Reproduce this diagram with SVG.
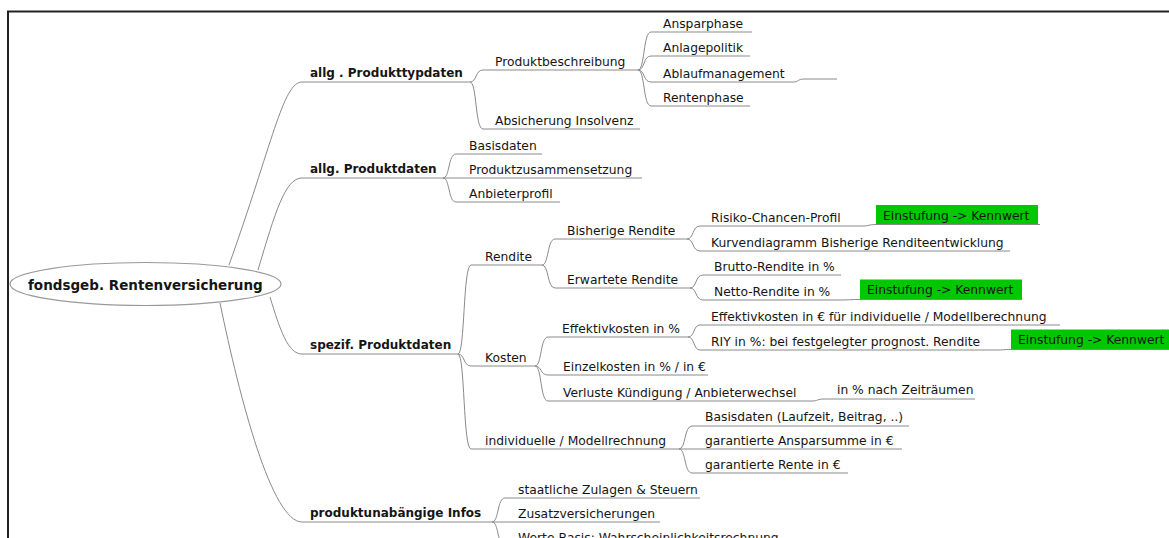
<svg xmlns="http://www.w3.org/2000/svg" width="1169" height="538" viewBox="0 0 1169 538">
<style>
text{font-family:"DejaVu Sans","Liberation Sans",sans-serif;fill:#151515}
.t{font-size:12.3px}
.b{font-size:12px;font-weight:bold}
.r{font-size:13.5px;font-weight:bold}
.u{stroke:#8a8a8a;stroke-width:1;fill:none}
.c{stroke:#8a8a8a;stroke-width:1;fill:none}
.g{fill:#00c800}
</style>
<rect x="0" y="0" width="1169" height="538" fill="#fff"/>
<path d="M8,538 L8,11.5 L1169,11.5" fill="none" stroke="#222" stroke-width="2"/>

<g id="connectors">
<path class="c" d="M229,265 C272,145 283,82 302,82"/>
<path class="c" d="M258,270 C275,213 285,178 302,178"/>
<path class="c" d="M270,297 C280,330 288,354 302,354"/>
<path class="c" d="M220,303 C240,400 272,522 302,522"/>
<path class="c" d="M470,82 C477,82 475,70 483,70"/>
<path class="c" d="M470,82 C477,82 475,129 483,129"/>
<path class="c" d="M638,70 C645,70 643,32 651,32"/>
<path class="c" d="M638,70 C645,70 643,56 651,56"/>
<path class="c" d="M638,70 C645,70 643,82 651,82"/>
<path class="c" d="M638,70 C645,70 643,106 651,106"/>
<path class="c" d="M793,82 C799,82 797,79 805,79"/>
<path class="c" d="M443,178 C450,178 448,154 456,154"/>
<path class="c" d="M443,178 L456,178"/>
<path class="c" d="M443,178 C450,178 448,202 456,202"/>
<path class="c" d="M458,354 C465,354 463,265 471,265"/>
<path class="c" d="M458,354 C465,354 463,366 471,366"/>
<path class="c" d="M458,354 C465,354 463,449 471,449"/>
<path class="c" d="M542,265 C549,265 547,239 555,239"/>
<path class="c" d="M542,265 C549,265 547,288 555,288"/>
<path class="c" d="M687,239 C694,239 692,226 700,226"/>
<path class="c" d="M687,239 C694,239 692,251 700,251"/>
<path class="c" d="M863,226 C869,226 869,224.5 876,224.5"/>
<path class="c" d="M690,288 C697,288 695,275 703,275"/>
<path class="c" d="M690,288 C697,288 695,300 703,300"/>
<path class="c" d="M840,300 C847,300 852,299.5 860,299.5"/>
<path class="c" d="M535,366 C542,366 540,337 548,337"/>
<path class="c" d="M535,366 C542,366 540,375 548,375"/>
<path class="c" d="M535,366 C542,366 540,401 548,401"/>
<path class="c" d="M688,337 C695,337 693,325 700,325"/>
<path class="c" d="M688,337 C695,337 693,350 700,350"/>
<path class="c" d="M997,350 C1003,350 1004,349.5 1011,349.5"/>
<path class="c" d="M812,401 C818,401 817,399 824,399"/>
<path class="c" d="M679,449 C686,449 684,426 692,426"/>
<path class="c" d="M679,449 L692,449"/>
<path class="c" d="M679,449 C686,449 684,473 692,473"/>
<path class="c" d="M492,522 C499,522 497,498 505,498"/>
<path class="c" d="M492,522 L505,522"/>
<path class="c" d="M492,522 C499,522 497,546 505,546"/>
</g>

<g id="root">
<ellipse cx="145.5" cy="284" rx="135.5" ry="21.5" fill="#fff" stroke="#9a9a9a" stroke-width="1.2"/>
<text class="r" x="28" y="290">fondsgeb. Rentenversicherung</text>
</g>

<g id="n_ptd"><line class="u" x1="302" y1="82" x2="470" y2="82"/><text class="b" x="310" y="77">allg . Produkttypdaten</text></g>
<g id="n_pd"><line class="u" x1="302" y1="178" x2="443" y2="178"/><text class="b" x="310" y="173">allg. Produktdaten</text></g>
<g id="n_spd"><line class="u" x1="302" y1="354" x2="458" y2="354"/><text class="b" x="310" y="349">spezif. Produktdaten</text></g>
<g id="n_pui"><line class="u" x1="302" y1="522" x2="492" y2="522"/><text class="b" x="310" y="517">produktunabängige Infos</text></g>

<g id="n_pb"><line class="u" x1="483" y1="70" x2="638" y2="70"/><text class="t" x="495" y="65.5">Produktbeschreibung</text></g>
<g id="n_ai"><line class="u" x1="483" y1="129" x2="640" y2="129"/><text class="t" x="495" y="124.5">Absicherung Insolvenz</text></g>
<g id="n_asp"><line class="u" x1="651" y1="32" x2="752" y2="32"/><text class="t" x="663" y="27.5">Ansparphase</text></g>
<g id="n_alp"><line class="u" x1="651" y1="56" x2="750" y2="56"/><text class="t" x="663" y="51.5">Anlagepolitik</text></g>
<g id="n_abm"><line class="u" x1="651" y1="82" x2="793" y2="82"/><text class="t" x="663" y="77.5">Ablaufmanagement</text></g>
<g id="n_abm_child"><line class="u" x1="805" y1="79" x2="837" y2="79"/></g>
<g id="n_rp"><line class="u" x1="651" y1="106" x2="750" y2="106"/><text class="t" x="663" y="101.5">Rentenphase</text></g>

<g id="n_bd"><line class="u" x1="456" y1="154" x2="542" y2="154"/><text class="t" x="469" y="149.5">Basisdaten</text></g>
<g id="n_pz"><line class="u" x1="456" y1="178" x2="642" y2="178"/><text class="t" x="469" y="173.5">Produktzusammensetzung</text></g>
<g id="n_abp"><line class="u" x1="456" y1="202" x2="560" y2="202"/><text class="t" x="469" y="197.5">Anbieterprofil</text></g>

<g id="n_ren"><line class="u" x1="471" y1="265" x2="542" y2="265"/><text class="t" x="485" y="260.5">Rendite</text></g>
<g id="n_br"><line class="u" x1="555" y1="239" x2="687" y2="239"/><text class="t" x="567" y="234.5">Bisherige Rendite</text></g>
<g id="n_rcp"><line class="u" x1="700" y1="226" x2="863" y2="226"/><text class="t" x="711" y="221.5">Risiko-Chancen-Profil</text></g>
<g id="n_k1"><rect class="g" x="876" y="205" width="162" height="19.5"/><line class="u" x1="876" y1="224.5" x2="1040" y2="224.5"/><text class="t" x="883" y="220">Einstufung -&gt; Kennwert</text></g>
<g id="n_kd"><line class="u" x1="700" y1="251" x2="1010" y2="251"/><text class="t" x="711" y="246.5">Kurvendiagramm Bisherige Renditeentwicklung</text></g>
<g id="n_er"><line class="u" x1="555" y1="288" x2="690" y2="288"/><text class="t" x="567" y="283.5">Erwartete Rendite</text></g>
<g id="n_bru"><line class="u" x1="703" y1="275" x2="841" y2="275"/><text class="t" x="714" y="270.5">Brutto-Rendite in %</text></g>
<g id="n_net"><line class="u" x1="703" y1="300" x2="840" y2="300"/><text class="t" x="714" y="295.5">Netto-Rendite in %</text></g>
<g id="n_k2"><rect class="g" x="860" y="279.5" width="162" height="20"/><line class="u" x1="860" y1="299.5" x2="1022" y2="299.5"/><text class="t" x="867" y="294">Einstufung -&gt; Kennwert</text></g>

<g id="n_kos"><line class="u" x1="471" y1="366" x2="535" y2="366"/><text class="t" x="485" y="361.5">Kosten</text></g>
<g id="n_ekp"><line class="u" x1="548" y1="337" x2="688" y2="337"/><text class="t" x="562" y="332.5">Effektivkosten in %</text></g>
<g id="n_eke"><line class="u" x1="700" y1="325" x2="1060" y2="325"/><text class="t" x="711" y="320.5">Effektivkosten in € für individuelle / Modellberechnung</text></g>
<g id="n_riy"><line class="u" x1="700" y1="350" x2="997" y2="350"/><text class="t" x="711" y="345.5">RIY in %: bei festgelegter prognost. Rendite</text></g>
<g id="n_k3"><rect class="g" x="1011" y="329.5" width="158" height="20"/><line class="u" x1="1011" y1="349.5" x2="1169" y2="349.5"/><text class="t" x="1018" y="344">Einstufung -&gt; Kennwert</text></g>
<g id="n_ezk"><line class="u" x1="548" y1="375" x2="708" y2="375"/><text class="t" x="563" y="370.5">Einzelkosten in % / in €</text></g>
<g id="n_vk"><line class="u" x1="548" y1="401" x2="812" y2="401"/><text class="t" x="563" y="396.5">Verluste Kündigung / Anbieterwechsel</text></g>
<g id="n_nz"><line class="u" x1="824" y1="399" x2="975" y2="399"/><text class="t" x="837" y="394">in % nach Zeiträumen</text></g>

<g id="n_im"><line class="u" x1="471" y1="449" x2="679" y2="449"/><text class="t" x="485" y="444.5">individuelle / Modellrechnung</text></g>
<g id="n_bl"><line class="u" x1="692" y1="426" x2="909" y2="426"/><text class="t" x="705" y="421">Basisdaten (Laufzeit, Beitrag, ..)</text></g>
<g id="n_ga"><line class="u" x1="692" y1="449" x2="902" y2="449"/><text class="t" x="705" y="444.5">garantierte Ansparsumme in €</text></g>
<g id="n_gr"><line class="u" x1="692" y1="473" x2="848" y2="473"/><text class="t" x="705" y="468.5">garantierte Rente in €</text></g>

<g id="n_sz"><line class="u" x1="505" y1="498" x2="700" y2="498"/><text class="t" x="518" y="493.5">staatliche Zulagen &amp; Steuern</text></g>
<g id="n_zv"><line class="u" x1="505" y1="522" x2="660" y2="522"/><text class="t" x="518" y="517.5">Zusatzversicherungen</text></g>
<g id="n_wb"><line class="u" x1="505" y1="546" x2="785" y2="546"/><text class="t" x="518" y="541.5">Werte-Basis: Wahrscheinlichkeitsrechnung</text></g>
</svg>
